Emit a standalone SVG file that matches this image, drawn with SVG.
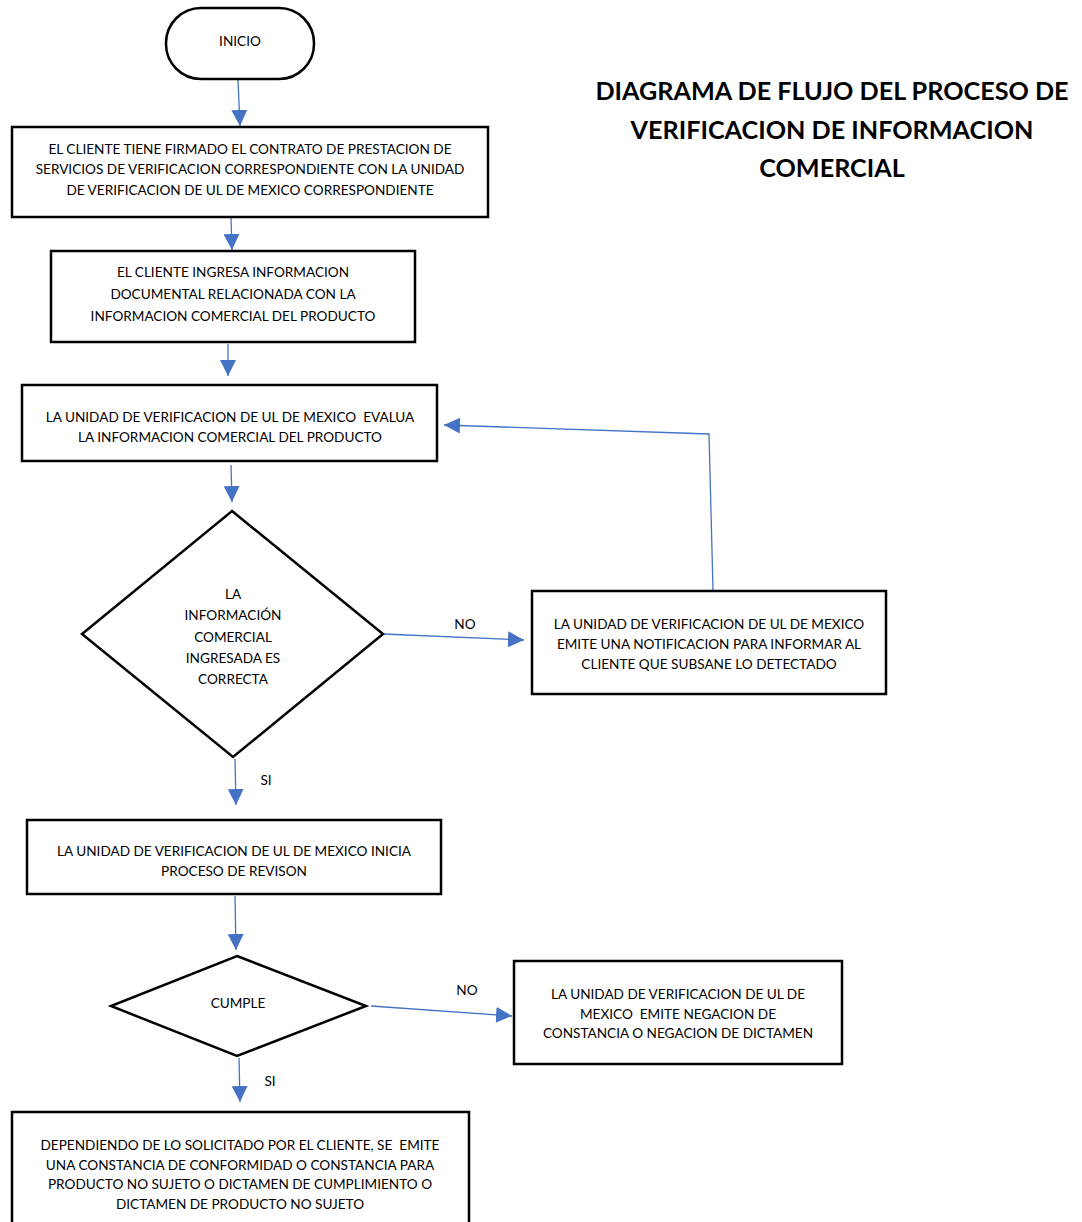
<svg xmlns="http://www.w3.org/2000/svg" width="1082" height="1222" viewBox="0 0 1082 1222">
<defs>
<marker id="ah" markerUnits="userSpaceOnUse" markerWidth="16" markerHeight="16" viewBox="0 0 16 16" refX="16" refY="8" orient="auto">
<path d="M0,0 L16,8 L0,16 Z" fill="#4472C4"/>
</marker>
<style>
.n{fill:#fff;stroke:#000;stroke-width:2.5}
.t{font-family:Lato,"Liberation Sans",sans-serif;font-size:13.6px;fill:#000;text-anchor:middle;white-space:pre}
.c{fill:none;stroke:#4472C4;stroke-width:1.3}
.ti{font-family:Lato,"Liberation Sans",sans-serif;font-size:25.2px;font-weight:bold;fill:#000;text-anchor:middle}
</style>
</defs>
<rect width="1082" height="1222" fill="#fff"/>
<g id="title">
<text class="ti" x="832" y="100">DIAGRAMA DE FLUJO DEL PROCESO DE</text>
<text class="ti" x="832" y="139">VERIFICACION DE INFORMACION</text>
<text class="ti" x="832" y="177">COMERCIAL</text>
</g>
<g id="connectors">
<path class="c" d="M238,80 L240,126" marker-end="url(#ah)"/>
<path class="c" d="M231,218 L232,250" marker-end="url(#ah)"/>
<path class="c" d="M228,344 L228,376" marker-end="url(#ah)"/>
<path class="c" d="M231,465 L232,502" marker-end="url(#ah)"/>
<path class="c" d="M383,634 L524,640" marker-end="url(#ah)"/>
<path class="c" d="M713,590 L709,434 L444,425" marker-end="url(#ah)"/>
<path class="c" d="M235,759 L236,805" marker-end="url(#ah)"/>
<path class="c" d="M235,896 L236,950" marker-end="url(#ah)"/>
<path class="c" d="M371,1006 L512,1016" marker-end="url(#ah)"/>
<path class="c" d="M239,1058 L240,1102" marker-end="url(#ah)"/>
<text class="t" x="465" y="629">NO</text>
<text class="t" x="266" y="785">SI</text>
<text class="t" x="467" y="995">NO</text>
<text class="t" x="270" y="1086">SI</text>
</g>
<g id="inicio">
<rect class="n" x="166" y="8" width="148" height="71" rx="35" ry="35"/>
<text class="t" x="240" y="46">INICIO</text>
</g>
<g id="box1">
<rect class="n" x="12" y="127" width="476" height="90"/>
<text class="t" x="250" y="154">EL CLIENTE TIENE FIRMADO EL CONTRATO DE PRESTACION DE</text>
<text class="t" x="250" y="174">SERVICIOS DE VERIFICACION CORRESPONDIENTE CON LA UNIDAD</text>
<text class="t" x="250" y="195">DE VERIFICACION DE UL DE MEXICO CORRESPONDIENTE</text>
</g>
<g id="box2">
<rect class="n" x="51" y="251" width="364" height="91"/>
<text class="t" x="233" y="277">EL CLIENTE INGRESA INFORMACION</text>
<text class="t" x="233" y="299">DOCUMENTAL RELACIONADA CON LA</text>
<text class="t" x="233" y="321">INFORMACION COMERCIAL DEL PRODUCTO</text>
</g>
<g id="box3">
<rect class="n" x="22" y="385" width="415" height="76"/>
<text class="t" x="230" y="422">LA UNIDAD DE VERIFICACION DE UL DE MEXICO  EVALUA</text>
<text class="t" x="230" y="442">LA INFORMACION COMERCIAL DEL PRODUCTO</text>
</g>
<g id="decision1">
<polygon class="n" points="232,511 383,634 233,757 82,634"/>
<text class="t" x="233" y="599">LA</text>
<text class="t" x="233" y="620">INFORMACIÓN</text>
<text class="t" x="233" y="642">COMERCIAL</text>
<text class="t" x="233" y="663">INGRESADA ES</text>
<text class="t" x="233" y="684">CORRECTA</text>
</g>
<g id="box4">
<rect class="n" x="532" y="591" width="354" height="103"/>
<text class="t" x="709" y="629">LA UNIDAD DE VERIFICACION DE UL DE MEXICO</text>
<text class="t" x="709" y="649">EMITE UNA NOTIFICACION PARA INFORMAR AL</text>
<text class="t" x="709" y="669">CLIENTE QUE SUBSANE LO DETECTADO</text>
</g>
<g id="box5">
<rect class="n" x="27" y="820" width="414" height="74"/>
<text class="t" x="234" y="856">LA UNIDAD DE VERIFICACION DE UL DE MEXICO INICIA</text>
<text class="t" x="234" y="876">PROCESO DE REVISON</text>
</g>
<g id="decision2">
<polygon class="n" points="237,956 366,1006 237,1056 111,1006"/>
<text class="t" x="238" y="1008">CUMPLE</text>
</g>
<g id="box6">
<rect class="n" x="514" y="961" width="328" height="103"/>
<text class="t" x="678" y="999">LA UNIDAD DE VERIFICACION DE UL DE</text>
<text class="t" x="678" y="1019">MEXICO  EMITE NEGACION DE</text>
<text class="t" x="678" y="1038">CONSTANCIA O NEGACION DE DICTAMEN</text>
</g>
<g id="box7">
<rect class="n" x="12" y="1112" width="457" height="130"/>
<text class="t" x="240" y="1150">DEPENDIENDO DE LO SOLICITADO POR EL CLIENTE, SE  EMITE</text>
<text class="t" x="240" y="1170">UNA CONSTANCIA DE CONFORMIDAD O CONSTANCIA PARA</text>
<text class="t" x="240" y="1189">PRODUCTO NO SUJETO O DICTAMEN DE CUMPLIMIENTO O</text>
<text class="t" x="240" y="1209">DICTAMEN DE PRODUCTO NO SUJETO</text>
</g>
</svg>
